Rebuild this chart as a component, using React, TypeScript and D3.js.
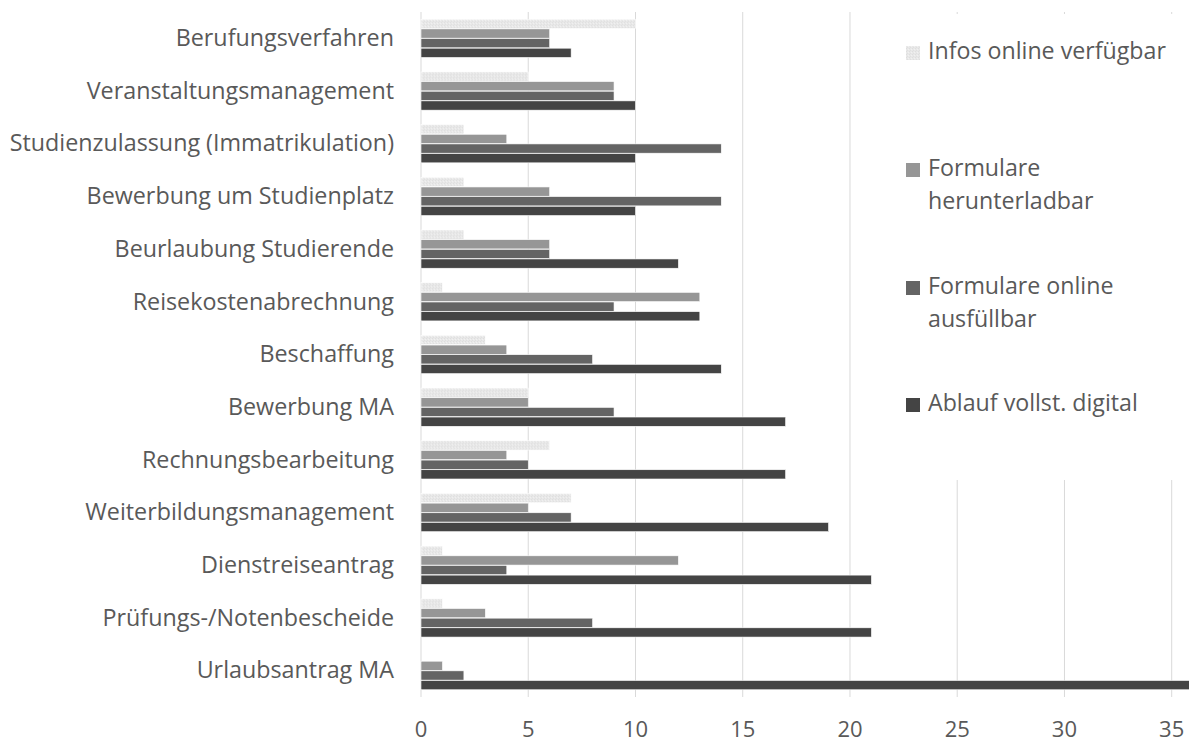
import React from "react";
import * as d3 from "d3";

const categories = [
  "Berufungsverfahren",
  "Veranstaltungsmanagement",
  "Studienzulassung (Immatrikulation)",
  "Bewerbung um Studienplatz",
  "Beurlaubung Studierende",
  "Reisekostenabrechnung",
  "Beschaffung",
  "Bewerbung MA",
  "Rechnungsbearbeitung",
  "Weiterbildungsmanagement",
  "Dienstreiseantrag",
  "Prüfungs-/Notenbescheide",
  "Urlaubsantrag MA",
];

const seriesNames = [
  "Infos online verfügbar",
  "Formulare herunterladbar",
  "Formulare online ausfüllbar",
  "Ablauf vollst. digital",
];

const legendLines = [
  ["Infos online verfügbar"],
  ["Formulare", "herunterladbar"],
  ["Formulare online", "ausfüllbar"],
  ["Ablauf vollst. digital"],
];

const infosOnline = [10, 5, 2, 2, 2, 1, 3, 5, 6, 7, 1, 1, 0];
const formulareDownload = [6, 9, 4, 6, 6, 13, 4, 5, 4, 5, 12, 3, 1];
const formulareOnline = [6, 9, 14, 14, 6, 9, 8, 9, 5, 7, 4, 8, 2];
const ablaufDigital = [7, 10, 10, 10, 12, 13, 14, 17, 17, 19, 21, 21, 36];

const xTicks = [0, 5, 10, 15, 20, 25, 30, 35];

const seriesValues = [infosOnline, formulareDownload, formulareOnline, ablaufDigital];
const seriesFills = ["url(#dotPattern)", "#969696", "#646464", "#444444"];

const W = 1189;
const H = 742;
const FONT = "'Open Sans', 'DejaVu Sans', sans-serif";
const TEXT = "#595959";

export default function App() {
  const x = d3.scaleLinear().domain([0, 35]).range([421, 1171.7]);
  const y = d3
    .scaleBand<string>()
    .domain(categories)
    .range([12, 697])
    .paddingInner(0.26)
    .paddingOuter(0.13);
  const ys = d3
    .scaleBand<string>()
    .domain(seriesNames)
    .range([0, y.bandwidth()])
    .padding(0.04);

  return (
    <svg
      width={W}
      height={H}
      style={{ position: "fixed", left: 0, top: 0, background: "#fff" }}
      fontFamily={FONT}
    >
      <defs>
        <pattern id="dotPattern" width="3" height="3" patternUnits="userSpaceOnUse">
          <rect width="3" height="3" fill="#e8e8e8" />
          <rect x="0" y="0" width="1" height="1" fill="#dedede" />
          <rect x="2" y="1" width="1" height="1" fill="#f1f1f1" />
          <rect x="1" y="2" width="1" height="1" fill="#e0e0e0" />
        </pattern>
      </defs>
      <rect width={W} height={H} fill="#fff" />
      {/* gridlines */}
      {xTicks.map((t) => (
        <line
          key={"g" + t}
          x1={x(t)}
          x2={x(t)}
          y1={12}
          y2={697}
          stroke="#d9d9d9"
          strokeWidth={1}
        />
      ))}
      {/* bars */}
      {categories.map((c, ci) => (
        <g key={c} transform={`translate(0,${y(c)})`}>
          {seriesNames.map((s, si) => {
            const v = seriesValues[si][ci];
            if (!v) return null;
            return (
              <rect
                key={s}
                x={x(0)}
                y={ys(s)}
                width={x(v) - x(0)}
                height={ys.bandwidth()}
                fill={seriesFills[si]}
                stroke="#ffffff"
                strokeWidth={0.6}
              />
            );
          })}
        </g>
      ))}
      {/* category labels */}
      {categories.map((c) => (
        <text
          key={"l" + c}
          x={394}
          y={(y(c) as number) + y.bandwidth() / 2 + 1.5}
          textAnchor="end"
          dominantBaseline="middle"
          fontSize={23.3}
          fill={TEXT}
        >
          {c}
        </text>
      ))}
      {/* tick labels */}
      {xTicks.map((t) => (
        <text
          key={"t" + t}
          x={x(t)}
          y={737}
          textAnchor="middle"
          fontSize={22}
          fill={TEXT}
        >
          {t}
        </text>
      ))}
      {/* legend */}
      <rect x={853} y={14} width={W - 853} height={466} fill="#fff" />
      {legendLines.map((lines, i) => {
        const tops = [53, 170, 288, 405];
        return (
          <g key={"lg" + i}>
            <rect x={906} y={tops[i] - 7} width={14} height={14} fill={seriesFills[i]} />
            {lines.map((ln, li) => (
              <text
                key={ln}
                x={928}
                y={tops[i] + li * 33}
                dominantBaseline="middle"
                fontSize={23.2}
                fill={TEXT}
              >
                {ln}
              </text>
            ))}
          </g>
        );
      })}
    </svg>
  );
}
